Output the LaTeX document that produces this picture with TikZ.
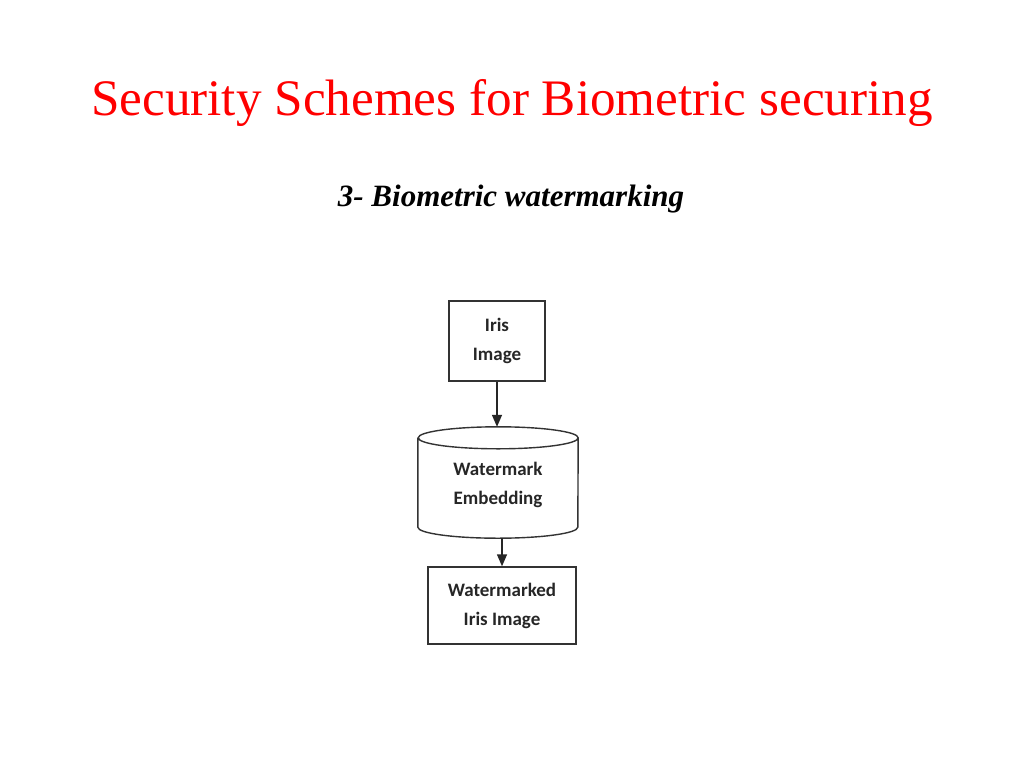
\documentclass[tikz,border=0pt]{standalone}
\usepackage{fontspec}
\setmainfont{Liberation Serif}
\newfontfamily\diagfont{Carlito}
\usetikzlibrary{arrows.meta,calc}
\begin{document}
\begin{tikzpicture}[x=1pt,y=-1pt,
  box/.style={draw=black!80,line width=1.4pt,inner sep=0pt},
  lbl/.style={font=\diagfont\bfseries\fontsize{19}{29}\selectfont,align=center,text=black!85},
  arr/.style={draw=black!85,line width=1.4pt,-{Triangle[length=12pt,width=10pt]}}]
\useasboundingbox[fill=white] (0,0) rectangle (1024,768);
\node[text=red,font=\fontsize{51.2}{60}\selectfont,anchor=base] (title) at (512,115) {Security Schemes for Biometric securing};
\node[font=\bfseries\itshape\fontsize{31}{34}\selectfont,anchor=base] (sub) at (511,206) {3- Biometric watermarking};
% boxes
\node[box,minimum width=96pt,minimum height=80pt] (iris) at (497,341) {};
\node[lbl] at (iris.center) {Iris\\Image};
\node[minimum width=160pt,minimum height=111pt,inner sep=0pt] (emb) at (498,482.5) {};
\draw[black!80,line width=1.4pt]
  ($(emb.north west)+(0,11)$) -- ($(emb.south west)+(0,-11)$)
  arc[start angle=180,end angle=0,x radius=80,y radius=11]
  -- ($(emb.north east)+(0,11)$)
  arc[start angle=0,end angle=-180,x radius=80,y radius=11]
  arc[start angle=180,end angle=0,x radius=80,y radius=11];
\node[lbl] at ($(emb.center)+(0,2)$) {Watermark\\Embedding};
\node[box,minimum width=148pt,minimum height=77pt] (out) at (502,605.5) {};
\node[lbl] at (out.center) {Watermarked\\Iris Image};
\draw[arr] (iris.south) -- (iris.south |- emb.north);
\draw[arr] (out.north |- emb.south) -- (out.north);
\end{tikzpicture}
\end{document}
